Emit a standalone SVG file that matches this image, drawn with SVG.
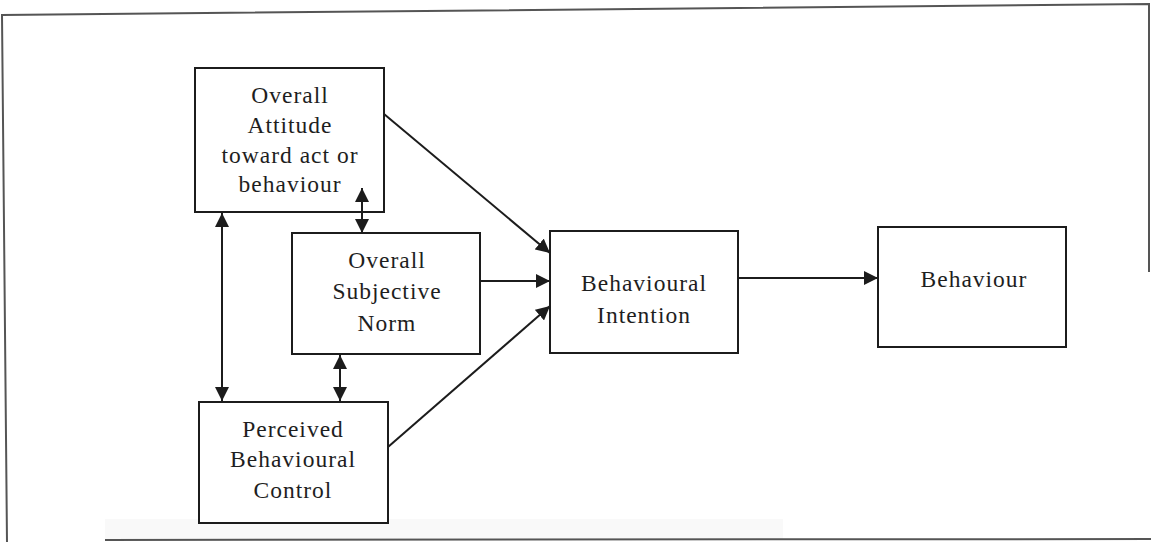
<svg xmlns="http://www.w3.org/2000/svg" width="1151" height="542" viewBox="0 0 1151 542">
  <style>
    .box { fill: #ffffff; stroke: #1c1c1c; stroke-width: 2; }
    .lbl { font-family: "Liberation Serif", "Times New Roman", serif; font-size: 23.5px; letter-spacing: 1px; fill: #1e1e1e; text-anchor: middle; }
    .edge { stroke: #1c1c1c; stroke-width: 2; fill: none; }
    .frame { stroke: #555555; stroke-width: 2; fill: none; }
  </style>
  <defs>
    <marker id="arrow" viewBox="0 0 14 14" refX="14" refY="7" markerWidth="14" markerHeight="14" markerUnits="userSpaceOnUse" orient="auto-start-reverse">
      <path d="M0,0 L14,7 L0,14 z" fill="#1c1c1c"/>
    </marker>
  </defs>

  <rect width="1151" height="542" fill="#ffffff"/>

  <!-- outer frame and faint strip along the bottom -->
  <g id="frame">
    <rect x="105" y="519" width="678" height="21" fill="#f9f9f9"/>
    <path class="frame" d="M7,542 L2,15 L1149,4 L1149,272"/>
    <path class="frame" d="M105,540 L1151,539"/>
  </g>

  <g id="attitude">
    <rect class="box" x="195" y="68" width="189" height="144"/>
    <text class="lbl" x="290" y="103">Overall</text>
    <text class="lbl" x="290" y="133">Attitude</text>
    <text class="lbl" x="290" y="163">toward act or</text>
    <text class="lbl" x="290" y="192">behaviour</text>
  </g>

  <g id="subjective-norm">
    <rect class="box" x="292" y="233" width="188" height="121"/>
    <text class="lbl" x="387" y="268">Overall</text>
    <text class="lbl" x="387" y="299">Subjective</text>
    <text class="lbl" x="387" y="331">Norm</text>
  </g>

  <g id="perceived-control">
    <rect class="box" x="199" y="402" width="189" height="121"/>
    <text class="lbl" x="293" y="437">Perceived</text>
    <text class="lbl" x="293" y="467">Behavioural</text>
    <text class="lbl" x="293" y="498">Control</text>
  </g>

  <g id="intention">
    <rect class="box" x="550" y="231" width="188" height="122"/>
    <text class="lbl" x="644" y="291">Behavioural</text>
    <text class="lbl" x="644" y="323">Intention</text>
  </g>

  <g id="behaviour">
    <rect class="box" x="878" y="227" width="188" height="120"/>
    <text class="lbl" x="974" y="287">Behaviour</text>
  </g>

  <!-- connectors, drawn over the boxes -->
  <g id="connectors">
    <line class="edge" x1="384" y1="114" x2="550" y2="253" marker-end="url(#arrow)"/>
    <line class="edge" x1="480" y1="281" x2="550" y2="281" marker-end="url(#arrow)"/>
    <line class="edge" x1="388" y1="447" x2="550" y2="306" marker-end="url(#arrow)"/>
    <line class="edge" x1="738" y1="278" x2="878" y2="278" marker-end="url(#arrow)"/>
    <line class="edge" x1="362" y1="188" x2="362" y2="233" marker-start="url(#arrow)" marker-end="url(#arrow)"/>
    <line class="edge" x1="222" y1="213" x2="222" y2="401" marker-start="url(#arrow)" marker-end="url(#arrow)"/>
    <line class="edge" x1="340" y1="355" x2="340" y2="401" marker-start="url(#arrow)" marker-end="url(#arrow)"/>
  </g>
</svg>
